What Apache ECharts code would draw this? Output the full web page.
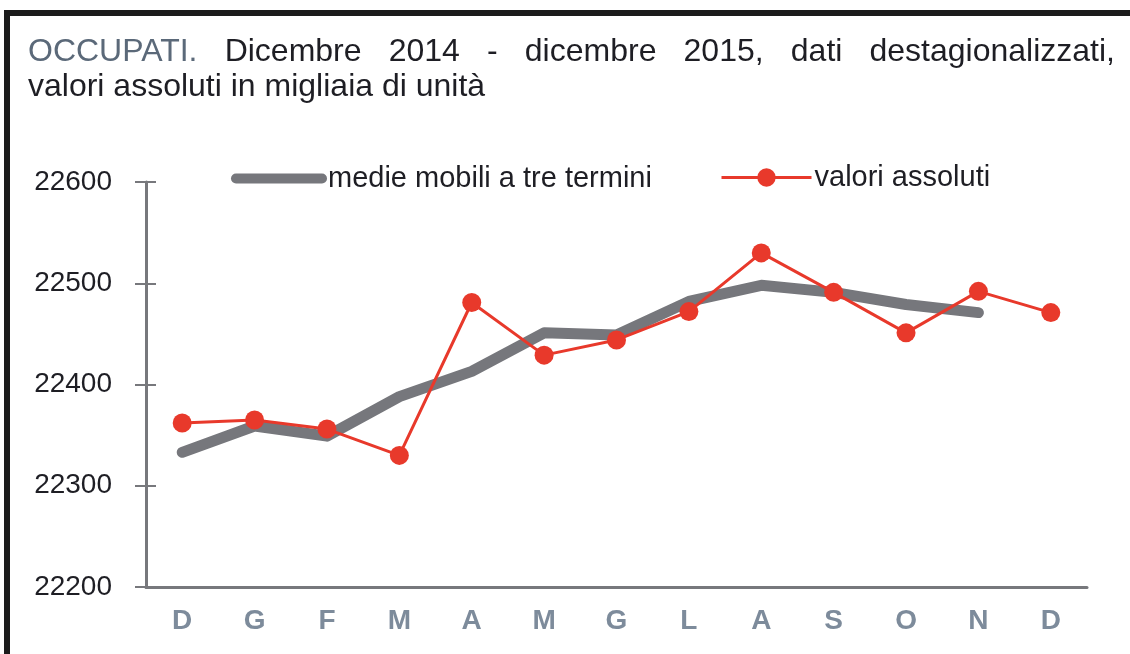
<!DOCTYPE html>
<html>
<head>
<meta charset="utf-8">
<script src="https://cdn.jsdelivr.net/npm/echarts@6/dist/echarts.min.js"></script>
<style>
  html, body { margin: 0; padding: 0; background: #fff; }
  #main { width: 1130px; height: 654px; }
</style>
</head>
<body>
<div id="main"></div>
<script type="text/javascript">
    // dati
    var mesi = ['D', 'G', 'F', 'M', 'A', 'M', 'G', 'L', 'A', 'S', 'O', 'N', 'D'];
    var valoriAssoluti = [22362, 22365, 22356, 22330, 22481, 22429, 22444, 22472, 22530, 22491, 22451, 22492, 22471];
    var medieMobili = [22333, 22359, 22349, 22388, 22413, 22451, 22449, 22482, 22498, 22491, 22479, 22471, null];
    var yTicks = [22200, 22300, 22400, 22500, 22600];

    var titoloRiga1 = ['OCCUPATI.', 'Dicembre', '2014', '-', 'dicembre', '2015,', 'dati', 'destagionalizzati,'];
    var titoloRiga2 = 'valori assoluti in migliaia di unità';

    var FONT = 'Arial, "Liberation Sans", sans-serif';

    // riga 1 giustificata tra x=28 e x=1115
    var ctx = document.createElement('canvas').getContext('2d');
    ctx.font = '32px ' + FONT;
    var larghezze = titoloRiga1.map(function (w) { return ctx.measureText(w).width; });
    var totale = larghezze.reduce(function (a, b) { return a + b; }, 0);
    var gap = (1115 - 28 - totale) / (titoloRiga1.length - 1);
    var graphic = [
        // cornice nera
        { type: 'rect', shape: { x: 4, y: 10, width: 1126, height: 6 }, style: { fill: '#1c1c1c' } },
        { type: 'rect', shape: { x: 4, y: 10, width: 6, height: 644 }, style: { fill: '#1c1c1c' } }
    ];
    var x = 28;
    titoloRiga1.forEach(function (w, i) {
        graphic.push({
            type: 'text', x: x, y: 52,
            style: {
                text: w, font: '32px ' + FONT,
                fill: i === 0 ? '#5b6979' : '#1e1e24',
                verticalAlign: 'middle'
            }
        });
        x += larghezze[i] + gap;
    });
    graphic.push({
        type: 'text', x: 28, y: 87,
        style: { text: titoloRiga2, font: '32px ' + FONT, fill: '#1e1e24', verticalAlign: 'middle' }
    });

    var myChart = echarts.init(document.getElementById('main'));
    var option = {
        animation: false,
        backgroundColor: '#fff',
        textStyle: { fontFamily: FONT },
        graphic: graphic,
        legend: [{
            left: 226, top: 159,
            itemWidth: 96, itemHeight: 10,
            data: [{
                name: 'medie mobili a tre termini',
                icon: 'path://M5,0 L91,0 A5,5 0 0 1 91,10 L5,10 A5,5 0 0 1 5,0 Z',
                itemStyle: { color: '#76777c' }
            }],
            textStyle: { fontSize: 29, color: '#1e1e24', padding: [0, 0, 0, -4] }
        }, {
            left: 715, top: 158,
            itemWidth: 90, itemHeight: 23,
            data: [{ name: 'valori assoluti', lineStyle: { width: 3 } }],
            textStyle: { fontSize: 29, color: '#1e1e24', padding: [0, 0, 0, -2] }
        }],
        grid: { left: 146, right: 43, top: 182, bottom: 67 },
        xAxis: {
            type: 'category',
            data: mesi,
            boundaryGap: true,
            axisLine: { lineStyle: { color: '#77787c', width: 3 } },
            axisTick: { show: false },
            axisLabel: { fontSize: 28, fontWeight: 'bold', color: '#7d8b9b', margin: 20 }
        },
        yAxis: [{
            type: 'value',
            min: yTicks[0], max: yTicks[yTicks.length - 1], interval: 100,
            position: 'left',
            axisLine: { show: true, lineStyle: { color: '#77787c', width: 3 } },
            axisTick: { show: true, length: 11, lineStyle: { color: '#77787c', width: 2 } },
            axisLabel: {
                fontSize: 28, color: '#1e1e24', margin: 34,
                formatter: function (v) { return String(v); }
            },
            splitLine: { show: false }
        }, {
            type: 'value',
            min: yTicks[0], max: yTicks[yTicks.length - 1], interval: 100,
            position: 'left',
            axisLine: { show: false },
            axisTick: { show: true, inside: true, length: 10, lineStyle: { color: '#77787c', width: 2 } },
            axisLabel: { show: false },
            splitLine: { show: false }
        }],
        series: [{
            name: 'medie mobili a tre termini',
            type: 'line',
            data: medieMobili,
            symbol: 'none',
            color: '#76777c',
            lineStyle: { width: 11, cap: 'round', join: 'round', color: '#76777c' },
            z: 2
        }, {
            name: 'valori assoluti',
            type: 'line',
            data: valoriAssoluti,
            symbol: 'circle',
            symbolSize: 19,
            color: '#e8392b',
            itemStyle: { color: '#e8392b' },
            lineStyle: { width: 3, color: '#e8392b' },
            z: 3
        }]
    };
    myChart.setOption(option);
</script>
</body>
</html>
